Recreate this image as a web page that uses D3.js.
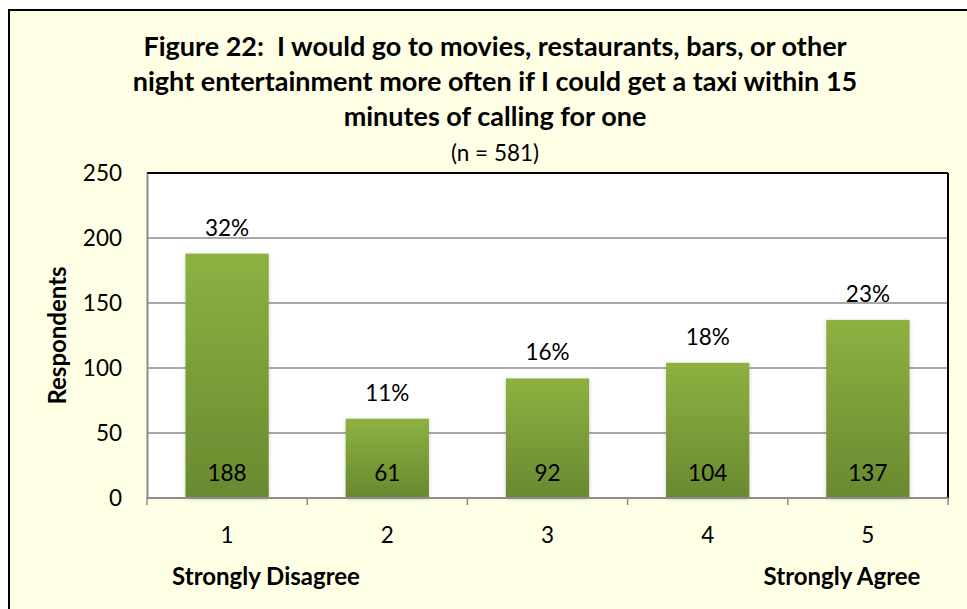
<!DOCTYPE html>
<html lang="en">
<head>
    <meta charset="UTF-8">
    <title>Figure 22</title>
    <script src="https://cdnjs.cloudflare.com/ajax/libs/d3/7.9.0/d3.min.js"></script>
    <style>
        body { margin: 0; background: #fff; }
        text { font-family: Lato, "Open Sans", sans-serif; fill: #000; white-space: pre; }
    </style>
</head>
<body>
<svg id="chart" width="967" height="609"></svg>
<script>
    // data
    const categories = ["1", "2", "3", "4", "5"];
    const respondents = [188, 61, 92, 104, 137];
    const percents = ["32%", "11%", "16%", "18%", "23%"];
    const yTicks = [0, 50, 100, 150, 200, 250];
    const titleLines = [
        "Figure 22:  I would go to movies, restaurants, bars, or other",
        "night entertainment more often if I could get a taxi within 15",
        "minutes of calling for one"
    ];
    const subtitle = "(n = 581)";

    const width = 967, height = 609;
    const margin = { top: 173, right: 19, bottom: 111, left: 147 };
    const plotW = width - margin.left - margin.right;
    const plotH = height - margin.top - margin.bottom;

    const svg = d3.select("#chart");

    // outer frame (cut off on the right and bottom in the original)
    svg.append("rect")
        .attr("x", 9).attr("y", 10)
        .attr("width", width + 20).attr("height", height + 20)
        .attr("fill", "#ffffe6")
        .attr("stroke", "#000")
        .attr("stroke-width", 2);

    const defs = svg.append("defs");
    const grad = defs.append("linearGradient")
        .attr("id", "barGrad")
        .attr("x1", 0).attr("y1", 0).attr("x2", 0).attr("y2", 1);
    grad.append("stop").attr("offset", "0%").attr("stop-color", "#8db141");
    grad.append("stop").attr("offset", "100%").attr("stop-color", "#698930");

    const shadow = defs.append("filter").attr("id", "shadow")
        .attr("x", "-20%").attr("y", "-20%").attr("width", "140%").attr("height", "140%");
    shadow.append("feDropShadow")
        .attr("dx", 0).attr("dy", 1).attr("stdDeviation", 2)
        .attr("flood-color", "#000").attr("flood-opacity", 0.18);

    // title
    const title = svg.append("g");
    titleLines.forEach(function (line, i) {
        title.append("text")
            .attr("x", 495)
            .attr("y", 56 + i * 35)
            .attr("text-anchor", "middle")
            .attr("font-size", 27)
            .attr("font-weight", "bold")
            .text(line);
    });
    title.append("text")
        .attr("x", 495)
        .attr("y", 161)
        .attr("text-anchor", "middle")
        .attr("font-size", 22.5)
        .text(subtitle);

    const g = svg.append("g")
        .attr("transform", `translate(${margin.left},${margin.top})`);

    const x = d3.scaleBand()
        .domain(categories)
        .range([0, plotW])
        .paddingInner(0.48)
        .paddingOuter(0.24);

    const y = d3.scaleLinear()
        .domain([0, 250])
        .range([plotH, 0]);

    g.append("rect")
        .attr("width", plotW).attr("height", plotH)
        .attr("fill", "#fff");

    // gridlines
    g.append("g")
        .selectAll("line")
        .data(yTicks.filter(d => d > 0 && d < 250))
        .enter().append("line")
        .attr("x1", 0).attr("x2", plotW)
        .attr("y1", d => y(d)).attr("y2", d => y(d))
        .attr("stroke", "#8c8c8c")
        .attr("stroke-width", 1.3);

    // plot border: dark top & right, grey axes
    g.append("line")
        .attr("x1", 0).attr("x2", plotW).attr("y1", 0).attr("y2", 0)
        .attr("stroke", "#000").attr("stroke-width", 2);
    g.append("line")
        .attr("x1", plotW).attr("x2", plotW).attr("y1", 0).attr("y2", plotH)
        .attr("stroke", "#000").attr("stroke-width", 2);

    // bars
    g.append("g")
        .selectAll("rect")
        .data(respondents)
        .enter().append("rect")
        .attr("x", (d, i) => x(categories[i]))
        .attr("y", d => y(d))
        .attr("width", x.bandwidth())
        .attr("height", d => plotH - y(d))
        .attr("fill", "url(#barGrad)")
        .attr("filter", "url(#shadow)");

    // count labels inside bars
    g.append("g")
        .selectAll("text")
        .data(respondents)
        .enter().append("text")
        .attr("x", (d, i) => x(categories[i]) + x.bandwidth() / 2)
        .attr("y", plotH - 17)
        .attr("text-anchor", "middle")
        .attr("font-size", 22.5)
        .text(d => d);

    // percent labels above bars
    g.append("g")
        .selectAll("text")
        .data(respondents)
        .enter().append("text")
        .attr("x", (d, i) => x(categories[i]) + x.bandwidth() / 2)
        .attr("y", d => y(d) - 18)
        .attr("text-anchor", "middle")
        .attr("font-size", 22.5)
        .text((d, i) => percents[i]);

    // y axis
    const yAxis = g.append("g")
        .call(d3.axisLeft(y).tickValues(yTicks).tickSize(0).tickPadding(25));
    yAxis.select(".domain").attr("stroke", "#8c8c8c").attr("stroke-width", 2);
    yAxis.selectAll("text")
        .attr("font-size", 22.5)
        .attr("font-family", "Lato, sans-serif")
        .attr("fill", "#000");

    // x axis with ticks between categories
    const xAxisG = g.append("g").attr("transform", `translate(0,${plotH})`);
    xAxisG.append("line")
        .attr("x1", 0).attr("x2", plotW)
        .attr("stroke", "#8c8c8c").attr("stroke-width", 2);
    xAxisG.selectAll("line.tick")
        .data(d3.range(categories.length + 1))
        .enter().append("line")
        .attr("class", "tick")
        .attr("x1", i => i * x.step())
        .attr("x2", i => i * x.step())
        .attr("y1", 0).attr("y2", 7)
        .attr("stroke", "#8c8c8c").attr("stroke-width", 1.5);
    xAxisG.selectAll("text.cat")
        .data(categories)
        .enter().append("text")
        .attr("class", "cat")
        .attr("x", d => x(d) + x.bandwidth() / 2)
        .attr("y", 45)
        .attr("text-anchor", "middle")
        .attr("font-size", 22.5)
        .text(d => d);

    // axis titles
    svg.append("text")
        .attr("transform", `translate(66,${margin.top + plotH / 2}) rotate(-90)`)
        .attr("text-anchor", "middle")
        .attr("font-size", 24)
        .attr("font-weight", "bold")
        .text("Respondents");

    svg.append("text")
        .attr("x", 266)
        .attr("y", 585)
        .attr("text-anchor", "middle")
        .attr("font-size", 24)
        .attr("font-weight", "bold")
        .text("Strongly Disagree");

    svg.append("text")
        .attr("x", 842)
        .attr("y", 585)
        .attr("text-anchor", "middle")
        .attr("font-size", 24)
        .attr("font-weight", "bold")
        .text("Strongly Agree");
</script>
</body>
</html>
